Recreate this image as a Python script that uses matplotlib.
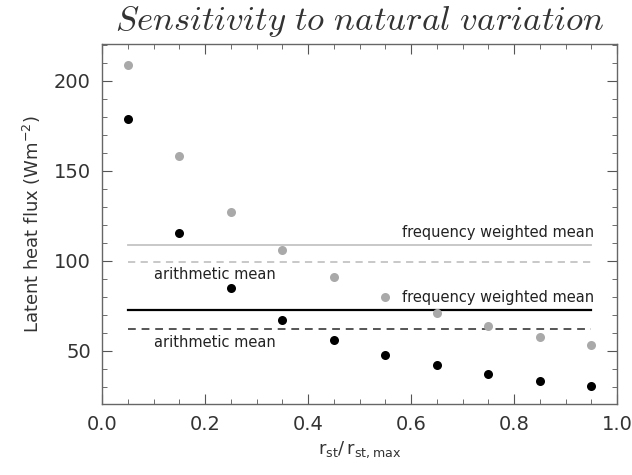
#!/usr/bin/env python3
import matplotlib
matplotlib.use("Agg")
import matplotlib.pyplot as plt
from matplotlib.ticker import MultipleLocator

# r_st / r_st,max bins
ratio = [0.05, 0.15, 0.25, 0.35, 0.45, 0.55, 0.65, 0.75, 0.85, 0.95]
flux_black = [179, 115.5, 85, 67, 56, 48, 42, 37, 33.5, 30.5]
flux_gray = [209, 158, 127, 106, 91, 80, 71, 64, 58, 53.5]

mean_lines = {
    "gray_weighted": 109,
    "gray_arith": 99.5,
    "black_weighted": 73,
    "black_arith": 62,
}
line_span = (0.05, 0.95)

GRAY = "#a9a9a9"

plt.rcParams["font.family"] = "DejaVu Sans"

fig = plt.figure(figsize=(6.32, 4.75), dpi=100)
ax = fig.add_axes([102 / 632, 1 - 404 / 475, 515 / 632, 360 / 475])

ax.plot(ratio, flux_gray, "o", color=GRAY, ms=6.5, mec="none", zorder=3)
ax.plot(ratio, flux_black, "o", color="black", ms=6.5, mec="none", zorder=3)

x0, x1 = line_span
ax.plot([x0, x1], [mean_lines["gray_weighted"]] * 2, color="#c4c4c4", lw=1.3)
ax.plot([x0, x1], [mean_lines["gray_arith"]] * 2, color="#c4c4c4", lw=1.3, ls=(0, (4, 3)))
ax.plot([x0, x1], [mean_lines["black_weighted"]] * 2, color="black", lw=1.6)
ax.plot([x0, x1], [mean_lines["black_arith"]] * 2, color="#555555", lw=1.4, ls=(0, (4, 3)))

lab = dict(fontsize=10.5, color="#222222")
ax.text(0.955, mean_lines["gray_weighted"] + 2.5, "frequency weighted mean", ha="right", va="bottom", **lab)
ax.text(0.1, mean_lines["gray_arith"] - 3, "arithmetic mean", ha="left", va="top", **lab)
ax.text(0.955, mean_lines["black_weighted"] + 2.5, "frequency weighted mean", ha="right", va="bottom", **lab)
ax.text(0.1, mean_lines["black_arith"] - 3, "arithmetic mean", ha="left", va="top", **lab)

ax.set_xlim(0, 1.0)
ax.set_ylim(20.5, 220.5)
ax.xaxis.set_major_locator(MultipleLocator(0.2))
ax.xaxis.set_minor_locator(MultipleLocator(0.05))
ax.yaxis.set_major_locator(MultipleLocator(50))
ax.yaxis.set_minor_locator(MultipleLocator(10))
ax.xaxis.set_major_formatter(lambda v, p: f"{v:.1f}")
ax.tick_params(which="both", direction="in", top=True, right=True, color="#555555")
ax.tick_params(which="major", length=7, labelsize=14, pad=8, labelcolor="#333333")
ax.tick_params(which="minor", length=3.5)
for s in ax.spines.values():
    s.set_color("#666666")
    s.set_linewidth(1.0)

ax.set_ylabel(r"Latent heat flux (Wm$^{-2}$)", fontsize=13, color="#333333", labelpad=8)
ax.set_xlabel(r"$\mathregular{r_{st}/\,r_{st,max}}$", fontsize=13, color="#333333", labelpad=4)
ax.set_title(r"$\mathit{Sensitivity\ to\ natural\ variation}$", fontsize=25,
             math_fontfamily="cm", color="#333333", pad=10)

fig.savefig("out.png", dpi=100)
